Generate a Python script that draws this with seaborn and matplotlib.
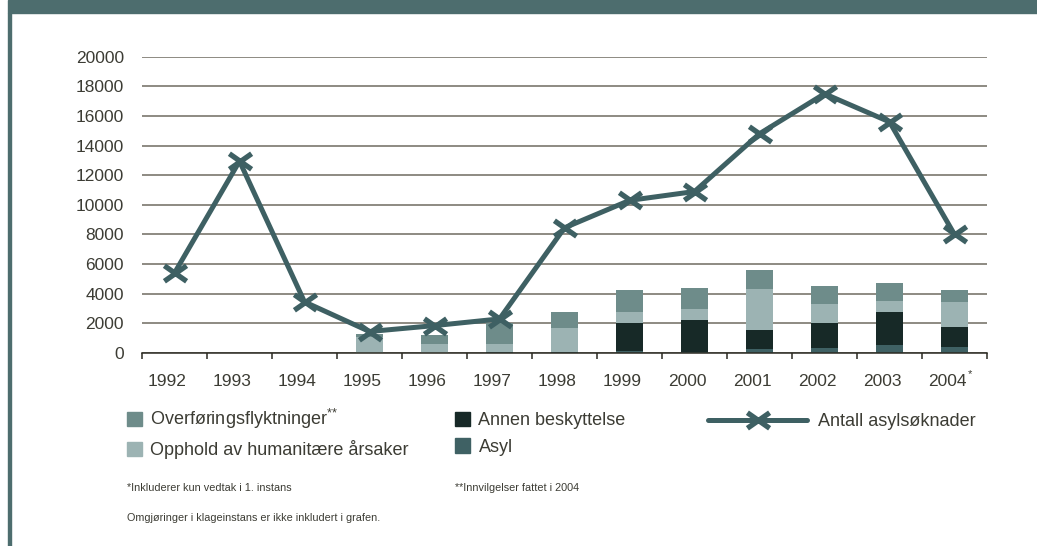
import numpy as np
import pandas as pd
import seaborn as sns
import matplotlib.pyplot as plt
from matplotlib.path import Path
from matplotlib.patches import Rectangle, Patch
from matplotlib.lines import Line2D
from matplotlib.transforms import ScaledTranslation

years = ["1992", "1993", "1994", "1995", "1996", "1997", "1998",
         "1999", "2000", "2001", "2002", "2003", "2004"]

# antall asylsøknader (linje)
soknader = [5400, 12950, 3450, 1450, 1850, 2300, 8450,
            10300, 10900, 14800, 17500, 15600, 8000]

# innvilgelser (stablede søyler, nederst først)
asyl = [0, 0, 0, 0, 0, 80, 90, 140, 70, 270, 340, 540, 400]
annen = [0, 0, 0, 0, 0, 0, 0, 1880, 2150, 1280, 1680, 2220, 1350]
opphold = [0, 0, 0, 1100, 600, 520, 1600, 740, 740, 2760, 1280, 740, 1690]
overforing = [0, 0, 0, 200, 600, 1400, 1080, 1490, 1420, 1280, 1210, 1210, 810]

c_overf = "#6e8c8a"
c_opph = "#9cb3b3"
c_annen = "#172927"
c_asyl = "#3f6164"
c_line = "#3e6063"
c_text = "#3c3c34"
c_head = "#4d6d6e"

df = pd.DataFrame({"year": years, "asyl": asyl, "annen": annen,
                   "opphold": opphold, "overforing": overforing})
df["top_asyl"] = df["asyl"]
df["top_annen"] = df["top_asyl"] + df["annen"]
df["top_opphold"] = df["top_annen"] + df["opphold"]
df["top_overf"] = df["top_opphold"] + df["overforing"]

sns.set_style("white")
plt.rcParams["font.family"] = ["Liberation Sans", "DejaVu Sans"]
plt.rcParams["mathtext.default"] = "regular"

fig = plt.figure(figsize=(10.37, 5.46), dpi=100)
W, H = 1037, 546

# ramme: topplinje og venstre kant
fig.patches.append(Rectangle((8 / W, 1 - 13 / H), 1, 13 / H,
                             transform=fig.transFigure, color=c_head, zorder=0))
fig.patches.append(Rectangle((8 / W, 0), 3 / W, 1 - 13 / H,
                             transform=fig.transFigure, color=c_head, zorder=0))

ax = fig.add_axes([142 / W, 1 - 353 / H, (987 - 142) / W, (353 - 56.7) / H])

# stablede søyler: tegn totalen først og legg lavere lag oppå
for col, color in [("top_overf", c_overf), ("top_opphold", c_opph),
                   ("top_annen", c_annen), ("top_asyl", c_asyl)]:
    sns.barplot(data=df, x="year", y=col, order=years, color=color,
                saturation=1, width=0.42, linewidth=0, ax=ax, zorder=2)

star = Path([(-1, -0.7), (1, 0.7), (-1, 0.7), (1, -0.7), (0, 0), (0, 0)],
            [Path.MOVETO, Path.LINETO, Path.MOVETO, Path.LINETO,
             Path.MOVETO, Path.LINETO])

sns.lineplot(x=np.arange(len(years)), y=soknader, color=c_line, lw=3.6,
             marker=star, markersize=16, mew=3.8, mec=c_line,
             solid_capstyle="round", ax=ax, zorder=4)

ax.set_xlim(-0.5, len(years) - 0.5)
ax.set_ylim(0, 20000)
ax.set_yticks(range(0, 20001, 2000))
ax.set_yticklabels([str(v) for v in range(0, 20001, 2000)])
ax.set_xticks(range(len(years)))
ax.set_xticklabels(years)
ax.set_xticks(np.arange(-0.5, len(years), 1.0), minor=True)
ax.set_xlabel("")
ax.set_ylabel("")

ax.grid(axis="y", color="#6f6b60", lw=1.1, zorder=0)
ax.grid(axis="x", visible=False)
ax.set_axisbelow(True)
for side in ["top", "right", "left"]:
    ax.spines[side].set_visible(False)
ax.spines["bottom"].set_color("#2b2a22")
ax.spines["bottom"].set_linewidth(1.1)

ax.tick_params(axis="y", length=0, pad=13, labelsize=12.5, labelcolor=c_text)
ax.tick_params(axis="x", which="major", length=0, pad=15, labelsize=12.5,
               labelcolor=c_text)
ax.tick_params(axis="x", which="minor", bottom=True, direction="out",
               length=4.5, width=1.1, color="#2b2a22")
shift = ScaledTranslation(-7 / 100, 0, fig.dpi_scale_trans)
for lab in ax.get_xticklabels():
    lab.set_transform(lab.get_transform() + shift)
# stjerne etter 2004
ax.annotate("*", xy=(len(years) - 1, 0), xytext=(9.5, -11.5),
            textcoords="offset points", ha="left", va="top",
            fontsize=8, color=c_text, annotation_clip=False)

# tegnforklaring
bar_handles = [Patch(color=c_overf, label="Overføringsflyktninger$^{*}$$^{*}$"),
               Patch(color=c_opph, label="Opphold av humanitære årsaker"),
               Patch(color=c_annen, label="Annen beskyttelse"),
               Patch(color=c_asyl, label="Asyl")]
leg1 = fig.legend(handles=bar_handles, ncol=2, loc="upper left",
                  bbox_to_anchor=(127 / W, 1 - 407 / H), frameon=False,
                  borderpad=0, borderaxespad=0, fontsize=13,
                  handlelength=0.85, handleheight=0.85, handletextpad=0.45,
                  columnspacing=2.55, labelspacing=0.5, labelcolor=c_text)
line_handle = Line2D([], [], color=c_line, lw=3.6, marker=star, markersize=16,
                     mew=3.8, solid_capstyle="round", label="Antall asylsøknader")
leg2 = fig.legend(handles=[line_handle], loc="upper left",
                  bbox_to_anchor=(708 / W, 1 - 413 / H), frameon=False,
                  borderpad=0, borderaxespad=0, fontsize=13,
                  handlelength=5.5, handletextpad=0.6, labelcolor=c_text)

fig.text(127 / W, 1 - 488 / H, "*Inkluderer kun vedtak i 1. instans",
         fontsize=7.8, color=c_text, va="center")
fig.text(455 / W, 1 - 488 / H, "**Innvilgelser fattet i 2004",
         fontsize=7.8, color=c_text, va="center")
fig.text(127 / W, 1 - 518 / H,
         "Omgjøringer i klageinstans er ikke inkludert i grafen.",
         fontsize=7.8, color=c_text, va="center")

fig.savefig("out.png", dpi=100)
